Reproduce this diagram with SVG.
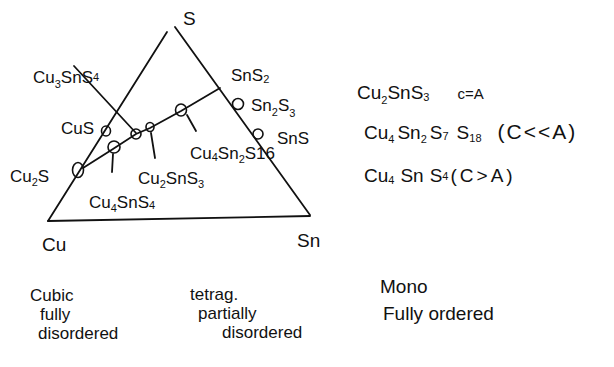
<svg xmlns="http://www.w3.org/2000/svg" width="614" height="367" viewBox="0 0 614 367">
<style>
.ln{stroke:#111;stroke-width:1.8;fill:none;stroke-linecap:round}
.c{stroke:#111;stroke-width:1.6;fill:none}
text{font-family:"Liberation Sans",Arial,sans-serif;fill:#111;font-size:17px}
.b{font-size:19px}
.m{font-size:17px}
.s{font-size:11px}
</style>
<rect width="614" height="367" fill="#fff"/>
<g id="triangle">
<path class="ln" d="M48,221 L167,32"/>
<path class="ln" d="M175,27 L310,215"/>
<path class="ln" d="M48,221 L310,216"/>
</g>
<g id="connectors">
<path class="ln" d="M83,168 L113,149 L136,134 L150,128 L181,111 L220,88"/>
<path class="ln" d="M74,66 L136,133"/>
<path class="ln" d="M113,154 L112,172"/>
<path class="ln" d="M151,133 L155,158"/>
<path class="ln" d="M187,115 L196,131"/>
</g>
<g id="points">
<ellipse class="c" cx="78" cy="170" rx="5.5" ry="7.5"/>
<ellipse class="c" cx="106" cy="131" rx="4.5" ry="5"/>
<ellipse class="c" cx="114" cy="147" rx="6" ry="6"/>
<ellipse class="c" cx="136" cy="134" rx="5" ry="5"/>
<ellipse class="c" cx="150" cy="127" rx="4" ry="4.5"/>
<ellipse class="c" cx="181" cy="110" rx="5.5" ry="6"/>
<ellipse class="c" cx="238" cy="104" rx="5.5" ry="5.5"/>
<ellipse class="c" cx="258" cy="134" rx="5" ry="5"/>
</g>
<g id="vertex-labels">
<text x="183" y="25" class="b">S</text>
<text x="42" y="251" class="b">Cu</text>
<text x="297" y="247" class="b">Sn</text>
</g>
<g id="phase-labels">
<text x="33" y="83">Cu<tspan class="s" dy="5">3</tspan><tspan dy="-5">SnS</tspan><tspan class="s" dy="-2">4</tspan></text>
<text x="61" y="134">CuS</text>
<text x="10" y="182">Cu<tspan class="s" dy="4">2</tspan><tspan dy="-4">S</tspan></text>
<text x="89" y="208">Cu<tspan class="s" dy="4">4</tspan><tspan dy="-4">SnS</tspan><tspan class="s" dy="1">4</tspan></text>
<text x="138" y="184">Cu<tspan class="s" dy="4">2</tspan><tspan dy="-4">SnS</tspan><tspan class="s" dy="4">3</tspan></text>
<text x="190" y="159">Cu<tspan class="s" dy="2">4</tspan><tspan dy="-2">Sn</tspan><tspan class="s" dy="4">2</tspan><tspan dy="-4">S16</tspan></text>
<text x="231" y="81">SnS<tspan class="s" dy="2">2</tspan></text>
<text x="251" y="111">Sn<tspan class="s" dy="5">2</tspan><tspan dy="-5">S</tspan><tspan class="s" dy="6">3</tspan></text>
<text x="277" y="144">SnS</text>
</g>
<g id="notes">
<text x="357" y="99" class="b">Cu<tspan class="s" dy="5">2</tspan><tspan dy="-5">SnS</tspan><tspan class="s" dy="2">3</tspan><tspan dx="28" dy="-2" font-size="15">c=A</tspan></text>
<text x="364" y="139" class="b">Cu<tspan class="s" dy="4">4</tspan><tspan dx="3" dy="-4">Sn</tspan><tspan class="s" dy="4">2</tspan><tspan dx="3" dy="-4">S</tspan><tspan class="s" dy="1">7</tspan><tspan dx="8" dy="-1">S</tspan><tspan class="s" dy="3">18</tspan><tspan dx="16" dy="-3" font-size="21" letter-spacing="2">(C&lt;&lt;A)</tspan></text>
<text x="364" y="182" class="b">Cu<tspan class="s" dy="2">4</tspan><tspan dx="6" dy="-2">Sn</tspan><tspan dx="6">S</tspan><tspan class="s" dy="-2">4</tspan><tspan dx="2" dy="2" letter-spacing="3">(C&gt;A)</tspan></text>
</g>
<g id="structure-labels">
<text x="30" y="301" class="m">Cubic</text>
<text x="40" y="320" class="m">fully</text>
<text x="38" y="339" class="m">disordered</text>
<text x="190" y="300" class="m">tetrag.</text>
<text x="198" y="319" class="m">partially</text>
<text x="222" y="338" class="m">disordered</text>
<text x="380" y="293" class="b">Mono</text>
<text x="383" y="320" class="b">Fully ordered</text>
</g>
</svg>
